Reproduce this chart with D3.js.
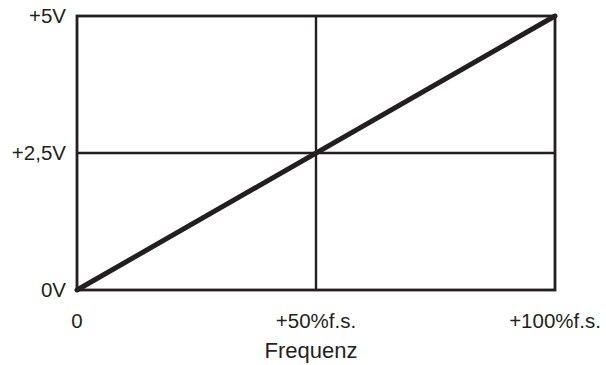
<!DOCTYPE html>
<html>
<head>
<meta charset="utf-8">
<script src="https://cdn.jsdelivr.net/npm/d3@7"></script>
<style>
  html, body { margin: 0; padding: 0; background: #fff; }
  svg { display: block; }
  text { font-family: "Liberation Sans", Arial, sans-serif; fill: #231f20; }
</style>
</head>
<body>
<svg id="chart" width="606" height="365"></svg>
<script>
// Frequency (% of full scale) vs. output voltage
const freqPct = [0, 100];
const voltage = [0, 5];
const xTickValues = [0, 50, 100];
const xTickLabels = ["0", "+50%f.s.", "+100%f.s."];
const yTickValues = [0, 2.5, 5];
const yTickLabels = ["0V", "+2,5V", "+5V"];
const xTitle = "Frequenz";

const ink = "#231f20";
const svg = d3.select("#chart");
const x = d3.scaleLinear().domain([0, 100]).range([77, 555]);
const y = d3.scaleLinear().domain([0, 5]).range([290, 16]);

// inner grid lines at mid-scale
svg.append("line")
  .attr("x1", x(50)).attr("x2", x(50))
  .attr("y1", y(0)).attr("y2", y(5))
  .attr("stroke", ink).attr("stroke-width", 2.4);
svg.append("line")
  .attr("x1", x(0)).attr("x2", x(100))
  .attr("y1", y(2.5)).attr("y2", y(2.5))
  .attr("stroke", ink).attr("stroke-width", 2.4);

// plot frame
svg.append("rect")
  .attr("x", x(0)).attr("y", y(5))
  .attr("width", x(100) - x(0)).attr("height", y(0) - y(5))
  .attr("fill", "none").attr("stroke", ink).attr("stroke-width", 2.8);

// transfer line
const pts = freqPct.map((f, i) => [f, voltage[i]]);
svg.append("path")
  .datum(pts)
  .attr("d", d3.line().x(d => x(d[0])).y(d => y(d[1])))
  .attr("fill", "none").attr("stroke", ink)
  .attr("stroke-width", 5).attr("stroke-linecap", "round");

// y tick labels
svg.selectAll("text.ylab")
  .data(yTickValues)
  .join("text")
  .attr("class", "ylab")
  .attr("x", 66)
  .attr("y", d => y(d))
  .attr("dy", "0.36em")
  .attr("text-anchor", "end")
  .attr("font-size", 20.5)
  .text((d, i) => yTickLabels[i]);

// x tick labels
svg.selectAll("text.xlab")
  .data(xTickValues)
  .join("text")
  .attr("class", "xlab")
  .attr("x", d => x(d))
  .attr("y", 328)
  .attr("text-anchor", "middle")
  .attr("font-size", 20.5)
  .text((d, i) => xTickLabels[i]);

// x axis title
svg.append("text")
  .attr("x", 311).attr("y", 358)
  .attr("text-anchor", "middle")
  .attr("font-size", 22)
  .text(xTitle);
</script>
</body>
</html>
